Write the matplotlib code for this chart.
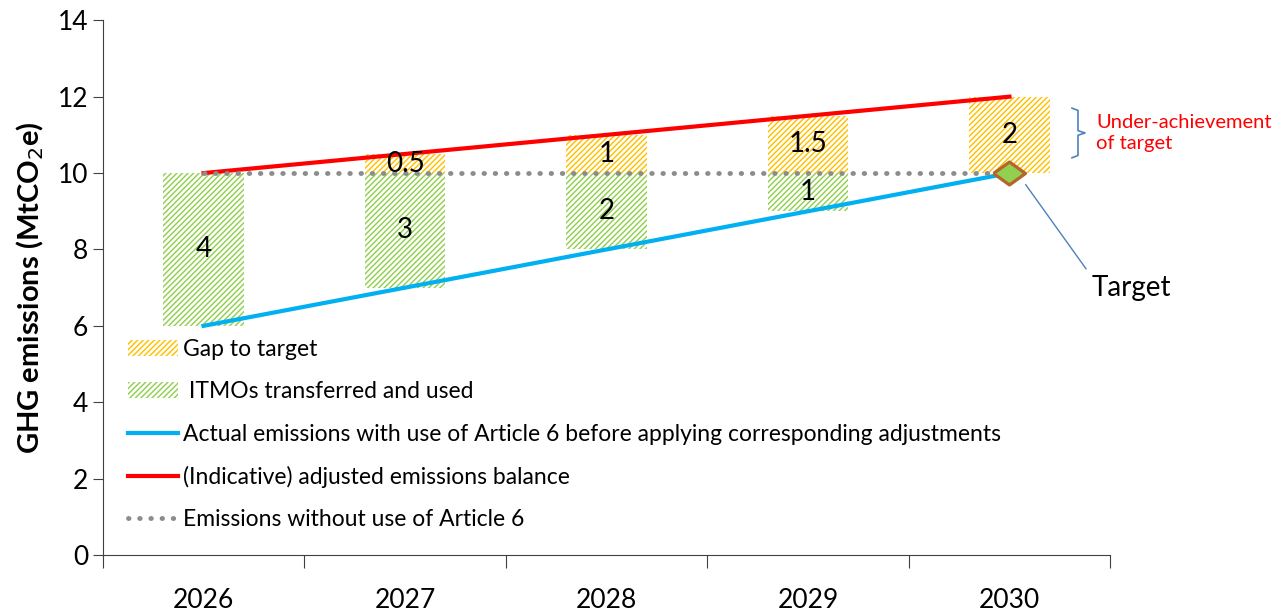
import matplotlib.pyplot as plt
import numpy as np

plt.rcParams['font.family'] = ['Lato', 'DejaVu Sans']

years = ['2026', '2027', '2028', '2029', '2030']
actual = [6, 7, 8, 9, 10]            # actual emissions with Article 6
adjusted = [10, 10.5, 11, 11.5, 12]  # (indicative) adjusted balance
baseline = [10, 10, 10, 10, 10]      # without Article 6
itmos = [4, 3, 2, 1, 0]
gap = [0, 0.5, 1, 1.5, 2]
target = 10

green = '#92D050'
orange = '#FFC000'
blue = '#00B0F0'
red = '#FF0000'
grey = '#8C8C8C'

plt.rcParams['hatch.linewidth'] = 1.05

fig = plt.figure(figsize=(12.85, 6.14), dpi=100)
ax = fig.add_axes([0.080, 0.096, 0.784, 0.871])

x = np.arange(len(years))
w = 0.4

b_gap = ax.bar(x, gap, w, bottom=baseline, color='white', edgecolor=orange,
               linewidth=0, hatch='//////', label='Gap to target', zorder=2)
b_itmo = ax.bar(x, itmos, w, bottom=actual, color='white', edgecolor=green,
                linewidth=0, hatch='//////', label=' ITMOs transferred and used', zorder=2)

l_act, = ax.plot(x, actual, color=blue, lw=3,
                 label='Actual emissions with use of Article 6 before applying corresponding adjustments',
                 zorder=3)
l_adj, = ax.plot(x, adjusted, color=red, lw=3, label='(Indicative) adjusted emissions balance', zorder=3)
l_base, = ax.plot(x, baseline, color=grey, lw=3.5, ls=(0, (0.1, 2.2)), dash_capstyle='round',
                  label='Emissions without use of Article 6', zorder=3)

# flattened diamond for the target
diamond = [(-1, 0), (0, 0.72), (1, 0), (0, -0.72), (-1, 0)]
ax.plot(x[-1], target, marker=diamond, ms=23, mfc=green, mec='#B5652A', mew=2.3, zorder=5, ls='none')

# value labels
for i in range(len(years)):
    if itmos[i]:
        ax.text(x[i], actual[i] + itmos[i] / 2, f'{itmos[i]:g}', ha='center', va='center',
                fontsize=20, zorder=4)
    if gap[i]:
        ax.text(x[i], baseline[i] + gap[i] / 2, f'{gap[i]:g}', ha='center', va='center',
                fontsize=20, zorder=4)

# target callout
ax.annotate('Target', xy=(x[-1] + 0.08, target - 0.3), xytext=(x[-1] + 0.41, 7.0),
            fontsize=20, va='center', ha='left',
            arrowprops=dict(arrowstyle='-', color='#4F81BD', lw=1, shrinkA=4, shrinkB=0,
                            relpos=(0, 0.9)))

# bracket for under-achievement
bx = x[-1] + 0.31
by0, by1 = 10.4, 11.7
ym = (by0 + by1) / 2
ax.plot([bx, bx + 0.03, bx + 0.03, bx + 0.065, bx + 0.03, bx + 0.03, bx],
        [by1, by1 - 0.06, ym + 0.06, ym, ym - 0.06, by0 + 0.06, by0],
        color='#4F81BD', lw=1.2, clip_on=False)
ax.text(bx + 0.12, ym, 'Under-achievement\nof target', color=red, fontsize=14.5,
        va='center', ha='left', linespacing=1.35)

ax.set_ylim(0, 14)
ax.set_yticks(np.arange(0, 15, 2))
ax.set_xlim(-0.5, len(years) - 0.5)
ax.set_xticks(np.arange(-0.5, len(years)), labels=[])
ax.set_xticks(x, labels=years, minor=True)
ax.tick_params(axis='x', which='major', length=9, direction='out', color='#404040')
ax.tick_params(axis='x', which='minor', length=0, pad=24, labelsize=19)
ax.tick_params(axis='y', length=7, direction='out', labelsize=19, color='#404040')
for s in ['top', 'right']:
    ax.spines[s].set_visible(False)
for s in ['left', 'bottom']:
    ax.spines[s].set_color('#404040')

ax.set_ylabel('GHG emissions (MtCO$_2$e)', fontsize=21, fontweight='bold', labelpad=8)

ax.legend(handles=[b_gap, b_itmo, l_act, l_adj, l_base],
          loc='lower left', bbox_to_anchor=(0.025, 0.046), frameon=False, fontsize=16.5,
          handlelength=2.2, handleheight=0.7, handletextpad=0.2, labelspacing=0.93,
          borderaxespad=0, borderpad=0)

fig.savefig('out.png', dpi=100)
